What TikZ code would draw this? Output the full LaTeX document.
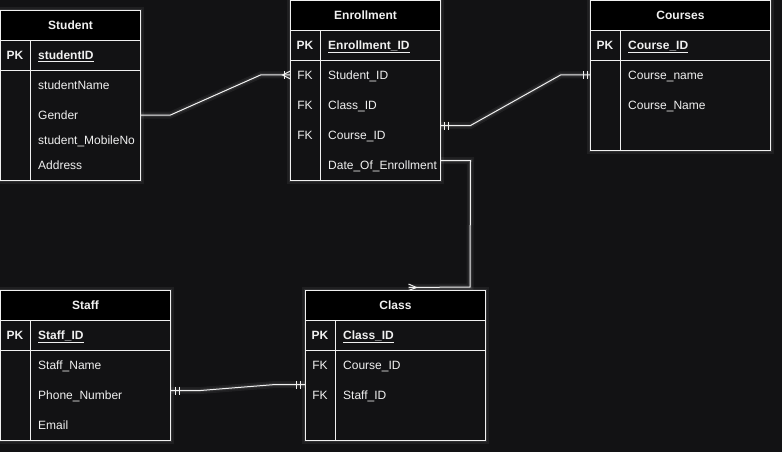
\documentclass[tikz,border=0pt]{standalone}
\usepackage{fontspec}
\setmainfont{Liberation Sans}
\definecolor{bg}{RGB}{18,18,20}
\definecolor{fg}{RGB}{240,240,240}
\tikzset{
  glow/.style={preaction={draw=white, draw opacity=0.06, line width=7pt},
               preaction={draw=white, draw opacity=0.08, line width=3.5pt}},
  tbl/.style={rectangle, draw=fg, line width=1pt, fill=bg, inner sep=0pt, outer sep=0pt, anchor=north west, glow},
  hdr/.style={rectangle, draw=fg, line width=1pt, fill=black, minimum height=30, inner sep=0pt, outer sep=0pt,
              anchor=north west, text=fg, font=\bfseries\fontsize{12}{14}\selectfont},
  fld/.style={anchor=west, inner sep=0pt, text height=8.6pt, text depth=0pt, text=fg, font=\fontsize{12}{14}\selectfont},
  keyl/.style={inner sep=0pt, text height=8.6pt, text depth=0pt, text=fg, font=\fontsize{12}{14}\selectfont},
  pkl/.style={keyl, font=\bfseries\fontsize{12}{14}\selectfont},
  pkf/.style={fld, font=\bfseries\fontsize{12}{14}\selectfont},
  conn/.style={draw=fg, line width=1pt, line join=miter, glow},
  tick/.style={draw=fg, line width=1pt},
}
\newcommand\ertbl[6]{%
  \node[tbl, minimum width=#4, minimum height=#5] (#1) at (#2,#3) {};
  \node[hdr, minimum width=#4] (#1-h) at (#2,#3) {#6};
  \draw[tick] (#2+30,#3+30) -- (#2+30,#3+#5);
  \draw[tick] (#2,#3+60) -- (#2+#4,#3+60);
}
\begin{document}
\begin{tikzpicture}[x=1pt,y=-1pt]
\fill[bg] (0,0) rectangle (782,452);
\useasboundingbox (0,0) rectangle (782,452);

% Student
\ertbl{stu}{0.5}{10.5}{140}{170}{Student}
\node[pkl] (stu-pk) at (15,55) {PK};
\node[pkf] (stu-id) at (38,55) {\underline{studentID}};
\node[fld] (stu-f1) at (38,85) {studentName};
\node[fld] (stu-f2) at (38,115) {Gender};
\node[fld] (stu-f3) at (38,140) {student\_MobileNo};
\node[fld] (stu-f4) at (38,165) {Address};

% Enrollment
\ertbl{enr}{290.5}{0.5}{150}{180}{Enrollment}
\node[pkl] (enr-pk) at (305,45) {PK};
\node[pkf] (enr-id) at (328,45) {\underline{Enrollment\_ID}};
\node[keyl] (enr-k1) at (305,75) {FK};
\node[keyl] (enr-k2) at (305,105) {FK};
\node[keyl] (enr-k3) at (305,135) {FK};
\node[fld] (enr-f1) at (328,75) {Student\_ID};
\node[fld] (enr-f2) at (328,105) {Class\_ID};
\node[fld] (enr-f3) at (328,135) {Course\_ID};
\node[fld] (enr-f4) at (328,165) {Date\_Of\_Enrollment};

% Courses
\ertbl{crs}{590.5}{0.5}{180}{150}{Courses}
\node[pkl] (crs-pk) at (605,45) {PK};
\node[pkf] (crs-id) at (628,45) {\underline{Course\_ID}};
\node[fld] (crs-f1) at (628,75) {Course\_name};
\node[fld] (crs-f2) at (628,105) {Course\_Name};

% Staff
\ertbl{stf}{0.5}{290.5}{170}{150}{Staff}
\node[pkl] (stf-pk) at (15,335) {PK};
\node[pkf] (stf-id) at (38,335) {\underline{Staff\_ID}};
\node[fld] (stf-f1) at (38,365) {Staff\_Name};
\node[fld] (stf-f2) at (38,395) {Phone\_Number};
\node[fld] (stf-f3) at (38,425) {Email};

% Class
\ertbl{cls}{305.5}{290.5}{180}{150}{Class}
\node[pkl] (cls-pk) at (320,335) {PK};
\node[pkf] (cls-id) at (343,335) {\underline{Class\_ID}};
\node[keyl] (cls-k1) at (320,365) {FK};
\node[keyl] (cls-k2) at (320,395) {FK};
\node[fld] (cls-f1) at (343,365) {Course\_ID};
\node[fld] (cls-f2) at (343,395) {Staff\_ID};

% connector endpoints
\coordinate (a1) at (stu.east |- stu-f2);
\coordinate (a2) at (enr.west |- enr-f1);
\coordinate (b1) at ([yshift=-35pt]enr.east);
\coordinate (b2) at (crs.west |- crs-f1);
\coordinate (c1) at ([yshift=-70pt]enr.east);
\coordinate (c2) at ([xshift=13pt,yshift=3pt]cls.north);
\coordinate (d1) at ([yshift=-25pt]stf.east);
\coordinate (d2) at ([yshift=-19pt]cls.west);

% Student -> Enrollment (one or many)
\draw[conn] (a1) -- ++(30,0) -- ([xshift=-30pt]a2) -- (a2);
\draw[tick] ([xshift=-6pt,yshift=4pt]a2) -- ([xshift=-6pt,yshift=-4pt]a2);
\draw[tick] ([yshift=4pt]a2) -- ([xshift=-8pt]a2) -- ([yshift=-4pt]a2);

% Enrollment -> Courses (one and only one)
\draw[conn] (b1) -- ++(30,0) -- ([xshift=-30pt]b2) -- (b2);
\draw[tick] ([xshift=4pt,yshift=4pt]b1) -- ([xshift=4pt,yshift=-4pt]b1);
\draw[tick] ([xshift=8pt,yshift=4pt]b1) -- ([xshift=8pt,yshift=-4pt]b1);
\draw[tick] ([xshift=-7pt,yshift=4pt]b2) -- ([xshift=-7pt,yshift=-4pt]b2);
\draw[tick] ([xshift=-3pt,yshift=4pt]b2) -- ([xshift=-3pt,yshift=-4pt]b2);

% Enrollment -> Class (many)
\draw[conn] (c1) -- ++(30,0) -- (470,287) -- (c2);
\draw[tick] ([yshift=3.5pt]c2) -- ([xshift=8pt]c2) -- ([yshift=-3pt]c2);

% Staff -> Class (one and only one)
\draw[conn] (d1) -- ++(30,0) -- ([xshift=-30pt]d2) -- (d2);
\draw[tick] ([xshift=5pt,yshift=4pt]d1) -- ([xshift=5pt,yshift=-4pt]d1);
\draw[tick] ([xshift=9pt,yshift=4pt]d1) -- ([xshift=9pt,yshift=-4pt]d1);
\draw[tick] ([xshift=-9pt,yshift=4pt]d2) -- ([xshift=-9pt,yshift=-4pt]d2);
\draw[tick] ([xshift=-5pt,yshift=4pt]d2) -- ([xshift=-5pt,yshift=-4pt]d2);
\end{tikzpicture}
\end{document}
